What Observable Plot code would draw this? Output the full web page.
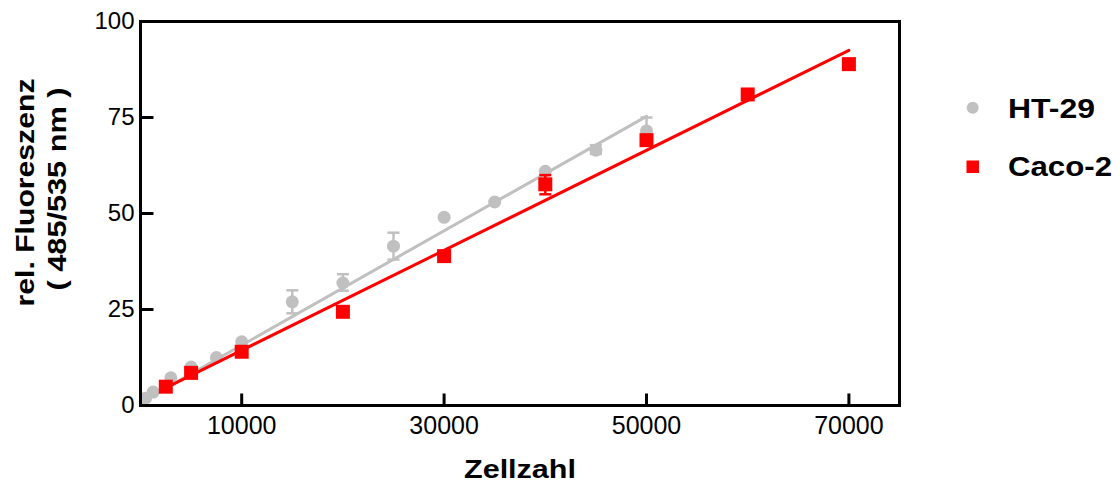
<!DOCTYPE html>
<html><head><meta charset="utf-8">
<script src="https://cdn.jsdelivr.net/npm/d3@7"></script>
<script src="https://cdn.jsdelivr.net/npm/@observablehq/plot@0.6"></script>
<style>
body{margin:0;background:#fff;}
#wrap{position:relative;width:1120px;height:484px;}
</style></head><body><div id="wrap"></div>
<script>
// HT-29 (grey circles)
const htX  = [500, 1250, 3000, 5000, 7500, 10000, 15000, 20000, 25000, 30000, 35000, 40000, 45000, 50000];
const htY  = [1.9, 3.5, 7.2, 10, 12.5, 16.6, 27, 31.9, 41.5, 49, 53, 61, 66.5, 71.5];
const htLo = [null, null, null, null, null, null, 24, 29.9, 38, null, null, null, 65.5, 68];
const htHi = [null, null, null, null, null, null, 30, 34.2, 45, null, null, null, 67.8, 75];
// Caco-2 (red squares)
const cacoX  = [2500, 5000, 10000, 20000, 30000, 40000, 50000, 60000, 70000];
const cacoY  = [4.9, 8.5, 14, 24.4, 38.9, 57.6, 69.1, 81, 88.9];
const cacoLo = [null, null, null, null, null, 55, null, null, null];
const cacoHi = [null, null, null, null, null, 60, null, null, null];
// linear fits (end points)
const htFitX = [0, 50000];
const htFitY = [0.8, 75.3];
const cacoFitX = [2500, 70000];
const cacoFitY = [4.6, 92.5];
// axes
const xTicks = [10000, 30000, 50000, 70000];
const yTicks = [0, 25, 50, 75, 100];
const seriesNames = ["HT-29", "Caco-2"];
const seriesColors = ["#c0c0c0", "#ff0000"];

const FONT = '"Liberation Sans", Arial, Helvetica, sans-serif';
const TICK = 12;

const toRows = (xs, ys, lo, hi) => xs.map((x, i) => ({x, y: ys[i], lo: lo ? lo[i] : null, hi: hi ? hi[i] : null}));
const ht = toRows(htX, htY, htLo, htHi);
const caco = toRows(cacoX, cacoY, cacoLo, cacoHi);
const htE = ht.filter(d => d.lo != null);
const cacoE = caco.filter(d => d.lo != null);
const htFit = toRows(htFitX, htFitY);
const cacoFit = toRows(cacoFitX, cacoFitY);

const cap = {draw(ctx, size) { const r = Math.sqrt(size / Math.PI); ctx.moveTo(-r, 0); ctx.lineTo(r, 0); }};
const tickUp = {draw(ctx) { ctx.moveTo(0, 0); ctx.lineTo(0, -TICK); }};
const tickRight = {draw(ctx) { ctx.moveTo(0, 0); ctx.lineTo(TICK + 1, 0); }};
const [cGray, cRed] = seriesColors;

const plot = Plot.plot({
  width: 1120, height: 484,
  marginLeft: 140, marginRight: 221, marginTop: 21, marginBottom: 79,
  x: {domain: [0, 75000]},
  y: {domain: [0, 100]},
  style: {fontFamily: FONT, color: "#000", background: "#fff"},
  marks: [
    Plot.ruleX(htE, {x: "x", y1: "lo", y2: "hi", stroke: cGray, strokeWidth: 2.5}),
    Plot.dot(htE, {x: "x", y: "hi", symbol: cap, r: 6, stroke: cGray, strokeWidth: 2.5}),
    Plot.dot(htE, {x: "x", y: "lo", symbol: cap, r: 6, stroke: cGray, strokeWidth: 2.5}),
    Plot.line(htFit, {x: "x", y: "y", stroke: cGray, strokeWidth: 3}),
    Plot.dot(ht, {x: "x", y: "y", r: 6.5, fill: cGray, symbol: "circle"}),
    Plot.line(cacoFit, {x: "x", y: "y", stroke: cRed, strokeWidth: 3}),
    Plot.dot(caco, {x: "x", y: "y", r: 7.9, fill: cRed, symbol: "square"}),
    Plot.ruleX(cacoE, {x: "x", y1: "lo", y2: "hi", stroke: cRed, strokeWidth: 2.5}),
    Plot.dot(cacoE, {x: "x", y: "hi", symbol: cap, r: 6, stroke: cRed, strokeWidth: 2.5}),
    Plot.dot(cacoE, {x: "x", y: "lo", symbol: cap, r: 6, stroke: cRed, strokeWidth: 2.5}),
    // inward tick marks
    Plot.dot(xTicks, {x: d => d, y: () => 0, symbol: tickUp, r: 5, stroke: "#000", fill: "none", strokeWidth: 3}),
    Plot.dot(yTicks, {x: () => 0, y: d => d, symbol: tickRight, r: 5, stroke: "#000", fill: "none", strokeWidth: 3}),
    Plot.frame({stroke: "#000", strokeWidth: 3}),
    Plot.axisX({ticks: xTicks, tickSize: 0, tickPadding: 11, tickFormat: d => String(d), fontSize: 25, label: null}),
    Plot.axisY({ticks: yTicks, tickSize: 0, tickPadding: 6, tickFormat: d => String(d), fontSize: 24, label: null}),
    Plot.text(["Zellzahl"], {text: d => d, frameAnchor: "bottom", lineAnchor: "bottom", dy: 72, fontSize: 26, fontWeight: "bold"}),
    Plot.text(["rel. Fluoreszenz"], {text: d => d, frameAnchor: "left", rotate: -90, textAnchor: "start", lineAnchor: "bottom", dx: -107, dy: 93, fontSize: 26, fontWeight: "bold"}),
    Plot.text(["( 485/535 nm )"], {text: d => d, frameAnchor: "left", rotate: -90, textAnchor: "start", lineAnchor: "bottom", dx: -75, dy: 77, fontSize: 26, fontWeight: "bold"})
  ]
});

// legend
const svg = d3.select(plot);
const lg = svg.append("g").attr("font-family", FONT).attr("font-weight", "bold").attr("font-size", 28).attr("text-anchor", "start");
lg.append("circle").attr("cx", 972.7).attr("cy", 107.7).attr("r", 6).attr("fill", cGray);
lg.append("rect").attr("x", 966.5).attr("y", 160.5).attr("width", 12.5).attr("height", 12.5).attr("fill", cRed);
lg.append("text").attr("x", 1008).attr("y", 118).attr("text-anchor", "start").text(seriesNames[0]);
lg.append("text").attr("x", 1008).attr("y", 176).attr("text-anchor", "start").text(seriesNames[1]);

// stretch bold texts to the widths seen in the picture
const stretch = (txt, len) => svg.selectAll("text").filter(function () { return this.textContent === txt; })
  .attr("textLength", len).attr("lengthAdjust", "spacingAndGlyphs");
stretch("Zellzahl", 112);
stretch("rel. Fluoreszenz", 228);
stretch("( 485/535 nm )", 203);
stretch(seriesNames[0], 87);
stretch(seriesNames[1], 104);

document.getElementById("wrap").appendChild(plot);
</script>
</body></html>
